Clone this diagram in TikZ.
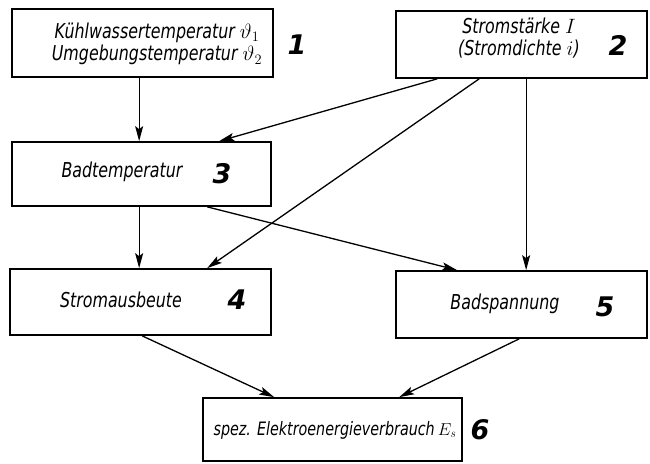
\documentclass[tikz,border=0pt]{standalone}
\usepackage{fontspec}
\setmainfont{DejaVu Sans Condensed}[FakeStretch=0.86]
\newfontfamily\digitfont{DejaVu Sans}
\usetikzlibrary{arrows.meta,calc}

\begin{document}
\begin{tikzpicture}[x=1pt,y=-1pt,
  box/.style={draw,line width=1.7pt,inner sep=0pt},
  conn/.style={line width=1.3pt,-{Stealth[length=15pt,width=8pt,inset=3pt]}},
  txt/.style={font=\fontsize{20.5}{22.5}\selectfont\itshape,inner sep=0pt,align=center},
  smalltxt/.style={txt,font=\fontsize{18.5}{23}\selectfont\itshape},
  num/.style={font=\digitfont\fontsize{27}{27}\selectfont\bfseries\itshape,inner sep=0pt}]
\useasboundingbox (0,0) rectangle (650,463);

% boxes
\node[box,minimum width=261pt,minimum height=68pt] (b1) at (142.5,43) {};
\node[box,minimum width=251pt,minimum height=67pt] (b2) at (521.5,44.5) {};
\node[box,minimum width=259pt,minimum height=64pt] (b3) at (141.5,174) {};
\node[box,minimum width=261pt,minimum height=66pt] (b4) at (140.5,302) {};
\node[box,minimum width=251pt,minimum height=67pt] (b5) at (521.5,304.5) {};
\node[box,minimum width=259pt,minimum height=63pt] (b6) at (332.5,429.5) {};

% texts
\node[txt] (t1) at (157,44) {Kühlwassertemperatur $\vartheta_1$\\Umgebungstemperatur $\vartheta_2$};
\node[txt] (t2) at (519,38) {Stromstärke $I$\\(Stromdichte $i$)};
\node[txt] (t3) at (122,172) {Badtemperatur};
\node[txt] (t4) at (121,300) {Stromausbeute};
\node[txt] (t5) at (505,304) {Badspannung};
\node[smalltxt] (t6) at (335,430) {spez. Elektroenergieverbrauch\,$E_s$};

% numbers
\node[num] (n1) at (297,45) {1};
\node[num] (n2) at (618,45) {2};
\node[num] (n3) at (222,174) {3};
\node[num] (n4) at (237,300) {4};
\node[num] (n5) at (605,307) {5};
\node[num] (n6) at (480,430) {6};

% connectors
\draw[conn] ($(b1.south west)+(128,0)$) -- ($(b3.north west)+(128,0)$);
\draw[conn] ($(b2.south west)+(42,0)$) -- ($(b3.north west)+(208,0)$);
\draw[conn] ($(b2.south west)+(84,0)$) -- ($(b4.north west)+(198,0)$);
\draw[conn] ($(b2.south west)+(131,0)$) -- ($(b5.north west)+(131,0)$);
\draw[conn] ($(b3.south west)+(128,0)$) -- ($(b4.north west)+(130,0)$);
\draw[conn] ($(b3.south west)+(196,0)$) -- ($(b5.north west)+(62,0)$);
\draw[conn] ($(b4.south west)+(133,0)$) -- ($(b6.north west)+(72,0)$);
\draw[conn] ($(b5.south west)+(124,0)$) -- ($(b6.north west)+(197,0)$);
\end{tikzpicture}
\end{document}
